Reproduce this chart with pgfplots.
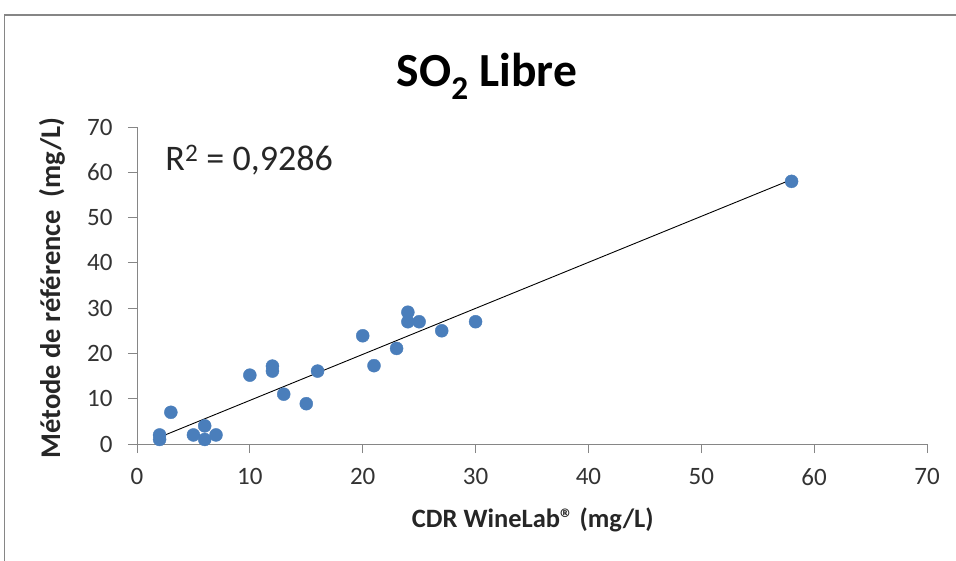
\documentclass[border=0pt]{standalone}
\usepackage{fontspec}
\setmainfont{Carlito}
\usepackage{pgfplots}
\pgfplotsset{compat=1.18}
\definecolor{ptblue}{RGB}{74,126,187}
\definecolor{axgray}{RGB}{134,134,134}
\begin{document}
\begin{tikzpicture}
\useasboundingbox (0,0) rectangle (956pt,-561pt);
\clip (0,0) rectangle (956pt,-561pt);
\draw[axgray, line width=1.2pt] (4.5pt,-15pt) rectangle (1000pt,-620pt);
\begin{axis}[
  at={(137pt,-444pt)}, anchor=south west,
  scale only axis, width=790pt, height=317pt,
  xmin=0, xmax=70, ymin=0, ymax=70,
  xtick={0,10,...,70}, ytick={0,10,...,70},
  axis x line*=bottom, axis y line*=left,
  axis line style={axgray, line width=1pt, -},
  tick style={axgray, line width=1pt},
  tick align=outside, major tick length=9pt,
  /pgf/number format/assume math mode=true,
  ticklabel style={font=\fontsize{25pt}{27pt}\selectfont, text=black!80},
  xticklabel style={yshift=-12pt},
  yticklabel style={xshift=-12pt},
  xlabel={CDR WineLab® (mg/L)},
  xlabel style={at={(axis description cs:0.501,-0.240)}, anchor=center, font=\bfseries\fontsize{26.5pt}{28pt}\selectfont, text=black!85},
  ylabel={Métode de référence\ \ (mg/L)},
  ylabel style={at={(axis description cs:-0.1076,0.492)}, anchor=center, rotate=0, font=\bfseries\fontsize{28.5pt}{30pt}\selectfont, text=black!85},
  title={SO\textsubscript{2} Libre},
  title style={at={(axis description cs:0.443,1.110)}, anchor=base, font=\bfseries\fontsize{47.5pt}{50pt}\selectfont},
  clip=false,
]
\addplot[only marks, mark=*, mark size=6.5pt, mark options={fill=ptblue, draw=ptblue}] coordinates {
 (2,1) (2,2) (3,7) (5,2) (6,4) (6,1) (7,2) (10,15.2) (12,17.2) (12,16.1)
 (13,11) (15,8.9) (16,16.1) (20,23.9) (21,17.3) (23,21.1) (24,29.1) (24,27)
 (25,27) (27,25) (30,27) (58,58)
};
\addplot[black, line width=0.9pt] coordinates {(2,1.5) (58,58.4)};
\node[anchor=west, font=\fontsize{36pt}{40pt}\selectfont, text=black!85] at (axis description cs:0.0316,0.896) {R\textsuperscript{2} = 0,9286};
\end{axis}
\end{tikzpicture}
\end{document}
